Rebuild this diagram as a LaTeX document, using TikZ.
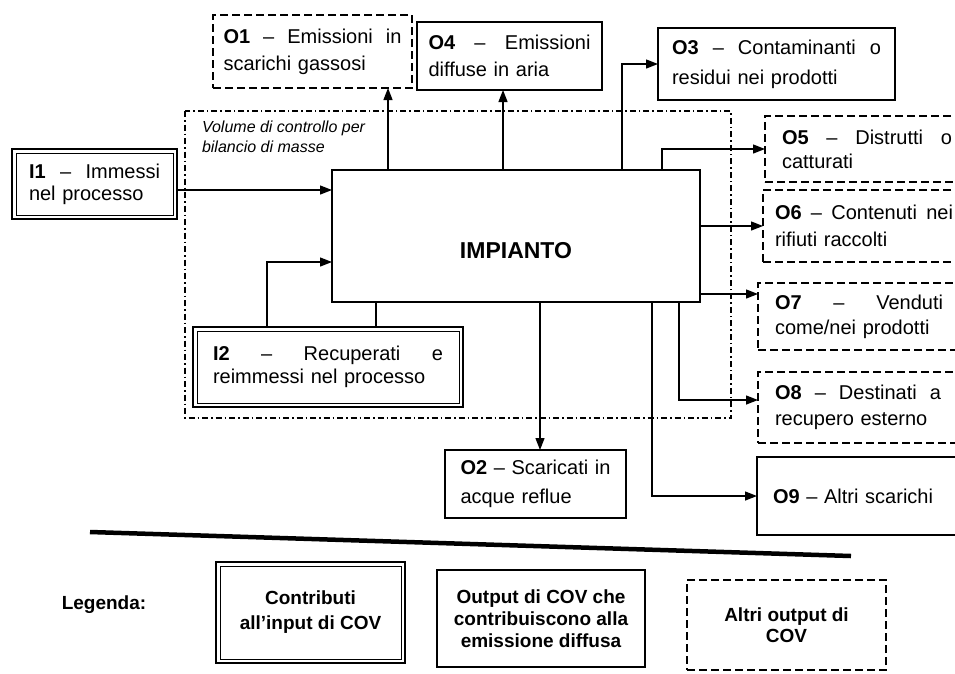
\documentclass[tikz,border=0pt]{standalone}
\usepackage{fontspec}
\setmainfont{Liberation Sans}
\usetikzlibrary{arrows.meta}
\newcommand{\jl}[2]{\hbox to #1{#2}}
\begin{document}
\begin{tikzpicture}[x=1pt,y=-1pt,
  every node/.style={inner sep=0pt, outer sep=0pt},
  txt/.style={font=\fontsize{20}{27}\selectfont, align=left},
  bx/.style={draw, line width=1.2pt, fill=white, txt},
  dbx/.style={draw, line width=2pt, fill=white, txt},
  inner/.style={line width=0.9pt},
  dsh/.style={draw, line width=1.2pt, dash pattern=on 8pt off 4pt, fill=white, txt},
  arr/.style={line width=1.3pt, -{Triangle[length=12pt,width=9pt]}},
  ln/.style={line width=1.3pt},
  cv/.style={line width=1.2pt, dash pattern=on 6pt off 3pt on 1.5pt off 3pt},
  lg/.style={font=\bfseries\fontsize{19}{24}\selectfont, align=center},
]
\useasboundingbox (0,0) rectangle (955,673);
\clip (0,0) rectangle (955,673);

% control volume
\draw[cv] (185,111) rectangle (731,418);
\node[anchor=north west, font=\itshape\fontsize{16}{20}\selectfont, align=left] (cvl) at (202,121)
  {Volume di controllo per\\bilancio di masse};

% main plant
\node[draw, line width=1.5pt, fill=white, minimum width=368pt, minimum height=132pt,
  font=\bfseries\fontsize{23}{27}\selectfont, text height=44pt, text depth=0pt] (imp) at (516,236) {IMPIANTO};

% inputs
\node[dbx, minimum width=165pt, minimum height=70pt, text width=131pt,
  font=\fontsize{20}{22}\selectfont] (i1) at (94.5,184)
  {\jl{131pt}{\textbf{I1}\hfill–\hfill Immessi}\\nel processo};
\draw[inner] ([shift={(4pt,-4pt)}]i1.north west) rectangle ([shift={(-4pt,4pt)}]i1.south east);
\node[dbx, minimum width=270pt, minimum height=80pt, text width=230pt,
  font=\fontsize{20}{23}\selectfont] (i2) at (328,367)
  {\jl{230pt}{\textbf{I2}\hfill–\hfill Recuperati\hfill e}\\reimmessi nel processo};
\draw[inner] ([shift={(4pt,-4pt)}]i2.north west) rectangle ([shift={(-4pt,4pt)}]i2.south east);

% outputs
\node[dsh, minimum width=199pt, minimum height=73pt, text width=178pt] (o1) at (312.5,51.5)
  {\jl{178pt}{\textbf{O1}\hfill–\hfill Emissioni\hfill in}\\scarichi gassosi};
\node[bx, minimum width=185pt, minimum height=68pt, text width=162pt] (o4) at (509.5,56)
  {\jl{162pt}{\textbf{O4}\hfill–\hfill Emissioni}\\diffuse in aria};
\node[bx, minimum width=237pt, minimum height=72pt, text width=209pt,
  font=\fontsize{20}{30}\selectfont] (o3) at (776.5,64)
  {\jl{209pt}{\textbf{O3}\hfill–\hfill Contaminanti\hfill o}\\residui nei prodotti};
\node[dsh, minimum width=204pt, minimum height=66pt, text width=170pt,
  font=\fontsize{20}{24}\selectfont] (o5) at (867,149)
  {\jl{170pt}{\textbf{O5}\hfill–\hfill Distrutti\hfill o}\\catturati};
\node[dsh, minimum width=202pt, minimum height=72pt, text width=178pt] (o6) at (864,226)
  {\jl{178pt}{\textbf{O6}\hfill–\hfill Contenuti\hfill nei}\\rifiuti raccolti};
\node[dsh, minimum width=202pt, minimum height=67pt, text width=168pt,
  font=\fontsize{20}{25}\selectfont] (o7) at (859,316.5)
  {\jl{168pt}{\textbf{O7}\hfill–\hfill Venduti}\\come/nei prodotti};
\node[dsh, minimum width=200pt, minimum height=71pt, text width=166pt,
  font=\fontsize{20}{26}\selectfont] (o8) at (858,407.5)
  {\jl{166pt}{\textbf{O8}\hfill–\hfill Destinati\hfill a}\\recupero esterno};
\node[bx, minimum width=217pt, minimum height=78pt, text width=185pt] (o9) at (865.5,496)
  {\textbf{O9} – Altri scarichi};
\node[bx, minimum width=181pt, minimum height=68pt, text width=150pt,
  font=\fontsize{20}{29}\selectfont] (o2) at (535.5,484)
  {\jl{150pt}{\textbf{O2}\hfill–\hfill Scaricati\hfill in}\\acque reflue};

% helper coordinates
\coordinate (yi1) at (0,190);
\coordinate (yi2) at (0,262);
\coordinate (xi2a) at (267,0);
\coordinate (xi2b) at (376,0);
\coordinate (xo1) at (388,0);
\coordinate (xo4) at (503,0);
\coordinate (xo3) at (622,0);
\coordinate (xo5) at (662,0);
\coordinate (xo2) at (540,0);
\coordinate (xo9) at (652,0);
\coordinate (xo8) at (679,0);
\coordinate (yo7) at (0,294);
\coordinate (yo8) at (0,400);

% connectors
\draw[arr] (i1.east |- yi1) -- (imp.west |- yi1);
\draw[arr] (xi2a |- i2.north) |- (imp.west |- yi2);
\draw[ln] (xi2b |- i2.north) -- (xi2b |- imp.south);
\draw[arr] (xo1 |- imp.north) -- (xo1 |- o1.south);
\draw[arr] (xo4 |- imp.north) -- (xo4 |- o4.south);
\draw[arr] (xo3 |- imp.north) |- (o3.west);
\draw[arr] (xo5 |- imp.north) |- (o5.west);
\draw[arr] (imp.east |- o6.west) -- (o6.west);
\draw[arr] (imp.east |- yo7) -- (o7.west |- yo7);
\draw[arr] (xo8 |- imp.south) |- (o8.west |- yo8);
\draw[arr] (xo9 |- imp.south) |- (o9.west);
\draw[arr] (xo2 |- imp.south) -- (xo2 |- o2.north);

% separator
\coordinate (s1) at (90,532);
\coordinate (s2) at (851,556);
\draw[line width=4.5pt] (s1) -- (s2);

% legend
\node[font=\bfseries\fontsize{19}{24}\selectfont] (leg) at (104,605) {Legenda:};
\node[lg, draw, line width=2pt, minimum width=189pt, minimum height=101pt,
  font=\bfseries\fontsize{19}{25}\selectfont] (lg1) at (310.5,612.5)
  {Contributi\\all'input di COV};
\draw[inner] ([shift={(4pt,-4pt)}]lg1.north west) rectangle ([shift={(-4pt,4pt)}]lg1.south east);
\node[lg, draw, line width=1.2pt, minimum width=208pt, minimum height=97pt,
  font=\bfseries\fontsize{19}{22}\selectfont] (lg2) at (541,618.5)
  {Output di COV che\\contribuiscono alla\\emissione diffusa};
\node[lg, draw, line width=1.2pt, dash pattern=on 8pt off 4pt, minimum width=199pt, minimum height=90pt,
  font=\bfseries\fontsize{19}{21}\selectfont] (lg3) at (786.5,625)
  {Altri output di\\COV};
\end{tikzpicture}
\end{document}
